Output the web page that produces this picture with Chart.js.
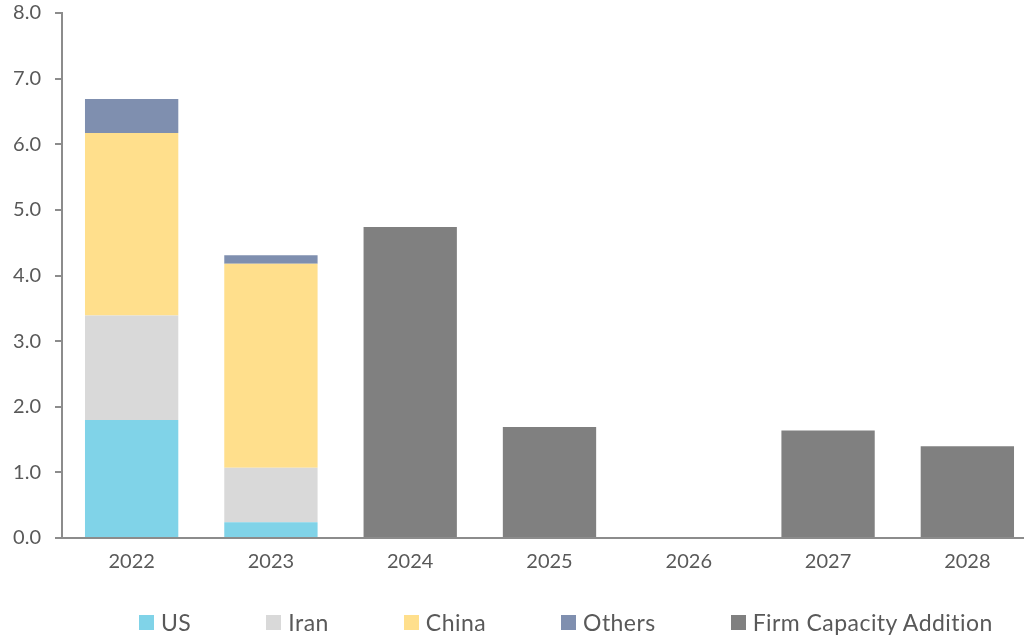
<!DOCTYPE html>
<html>
<head>
<meta charset="utf-8">
<script src="https://cdn.jsdelivr.net/npm/chart.js@4/dist/chart.umd.min.js"></script>
<style>
  html, body { margin: 0; padding: 0; background: #fff; }
  #wrap { position: relative; width: 1024px; height: 635px; overflow: hidden; }
  #box { position: absolute; left: 0; top: 0; width: 1037px; height: 635px; }
  #legend {
    position: absolute; left: 139px; top: 608px;
    display: flex; gap: 75px; align-items: center;
    font-family: 'Lato', sans-serif; font-size: 23px; letter-spacing: 0.45px; color: #595959;
  }
  #legend .item { display: flex; align-items: center; }
  #legend .box { width: 15px; height: 15px; margin-right: 7px; }
</style>
</head>
<body>
<div id="wrap">
  <div id="box"><canvas id="chart"></canvas></div>
  <div id="legend"></div>
</div>
<script>
// categories and series
var years = ['2022', '2023', '2024', '2025', '2026', '2027', '2028'];
var us = [1.8, 0.24, null, null, null, null, null];
var iran = [1.59, 0.83, null, null, null, null, null];
var china = [2.78, 3.11, null, null, null, null, null];
var others = [0.52, 0.13, null, null, null, null, null];
var firm = [null, null, 4.74, 1.69, null, 1.64, 1.40];
var yTicks = [0, 1, 2, 3, 4, 5, 6, 7, 8];

var axisGrey = '#8c8c8c';
var textGrey = '#595959';

function ds(label, data, color) {
  return {
    label: label,
    data: data,
    backgroundColor: color,
    borderWidth: 0,
    stack: 's',
    categoryPercentage: 1,
    barPercentage: 0.67
  };
}

var ctx = document.getElementById('chart').getContext('2d');
var myChart = new Chart(ctx, {
  type: 'bar',
  data: {
    labels: years,
    datasets: [
      ds('US', us, '#80d3e8'),
      ds('Iran', iran, '#d9d9d9'),
      ds('China', china, '#ffdf8c'),
      ds('Others', others, '#7f8faf'),
      ds('Firm Capacity Addition', firm, '#808080')
    ]
  },
  options: {
    responsive: true,
    maintainAspectRatio: false,
    animation: false,
    layout: { padding: { top: 13, right: 0, bottom: 49, left: 0 } },
    plugins: {
      tooltip: { enabled: false },
      legend: { display: false }
    },
    scales: {
      x: {
        stacked: true,
        grid: { display: false, drawTicks: false },
        border: { color: axisGrey, width: 2 },
        ticks: {
          color: textGrey,
          padding: 12,
          font: { family: 'Lato', size: 20 }
        },
        afterFit: function (axis) { axis.paddingLeft = 0; axis.paddingRight = 0; }
      },
      y: {
        stacked: true,
        min: 0,
        max: 8,
        afterFit: function (axis) {
          axis.width = 62;
          axis.paddingTop = 0;
          axis.paddingBottom = 0;
        },
        afterBuildTicks: function (axis) {
          axis.ticks = yTicks.map(function (v) { return { value: v }; });
        },
        grid: {
          display: true,
          drawOnChartArea: false,
          drawTicks: true,
          tickLength: 7,
          color: axisGrey,
          lineWidth: 2
        },
        border: { color: axisGrey, width: 2 },
        ticks: {
          color: textGrey,
          padding: 14,
          font: { family: 'Lato', size: 20 },
          callback: function (v) { return Number(v).toFixed(1); }
        }
      }
    }
  }
});

// html legend built from the chart datasets
var legendEl = document.getElementById('legend');
myChart.data.datasets.forEach(function (d) {
  var item = document.createElement('div');
  item.className = 'item';
  var box = document.createElement('span');
  box.className = 'box';
  box.style.background = d.backgroundColor;
  var txt = document.createElement('span');
  txt.textContent = d.label;
  item.appendChild(box);
  item.appendChild(txt);
  legendEl.appendChild(item);
});
</script>
</body>
</html>
